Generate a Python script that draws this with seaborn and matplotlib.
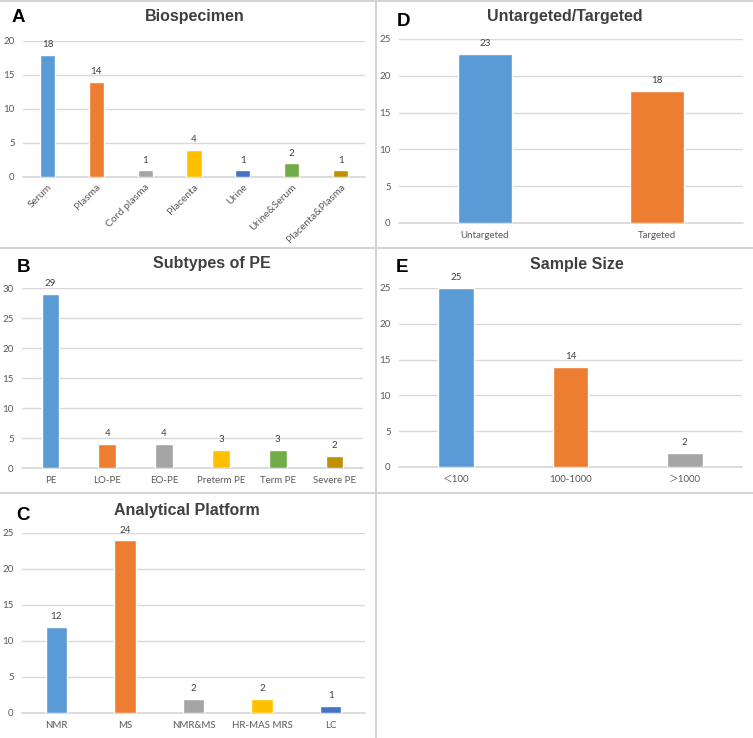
import matplotlib
matplotlib.use("Agg")
import matplotlib.pyplot as plt
import seaborn as sns
import pandas as pd
from matplotlib.lines import Line2D

# Panel data
bio_cats = ["Serum", "Plasma", "Cord plasma", "Placenta", "Urine", "Urine&Serum", "Placenta&Plasma"]
bio_vals = [18, 14, 1, 4, 1, 2, 1]

sub_cats = ["PE", "LO-PE", "EO-PE", "Preterm PE", "Term PE", "Severe PE"]
sub_vals = [29, 4, 4, 3, 3, 2]

plat_cats = ["NMR", "MS", "NMR&MS", "HR-MAS MRS", "LC"]
plat_vals = [12, 24, 2, 2, 1]

tgt_cats = ["Untargeted", "Targeted"]
tgt_vals = [23, 18]

size_cats = ["＜100", "100-1000", "＞1000"]
size_vals = [25, 14, 2]

# Excel office palette
BLUE, ORANGE, GRAY, GOLD = "#5B9BD5", "#ED7D31", "#A5A5A5", "#FFC000"
DBLUE, GREEN, DGOLD = "#4472C4", "#70AD47", "#BF9000"

sns.set_theme(style="whitegrid")
plt.rcParams["font.family"] = ["Lato", "Noto Sans CJK SC", "DejaVu Sans"]

W, H = 753, 738
fig = plt.figure(figsize=(W / 100, H / 100), dpi=100)


def px_axes(x0, x1, y_top, y_bot):
    # axes rectangle given in pixel coordinates (y from top)
    return fig.add_axes([x0 / W, 1 - y_bot / H, (x1 - x0) / W, (y_bot - y_top) / H])


def panel(ax, cats, vals, colors, ymax, step, rot=False):
    df = pd.DataFrame({"cat": cats, "val": vals})
    sns.barplot(data=df, x="cat", y="val", hue="cat", palette=colors,
                legend=False, width=0.31, ax=ax, saturation=1)
    for c in ax.containers:
        ax.bar_label(c, padding=4, fontsize=7, color="#404040")
    ax.set_ylim(0, ymax)
    ax.set_yticks(range(0, ymax + 1, step))
    ax.set_xlim(-0.5, len(cats) - 0.5)
    ax.set_xlabel("")
    ax.set_ylabel("")
    ax.grid(axis="y", color="#d9d9d9", lw=1)
    ax.grid(axis="x", visible=False)
    ax.axhline(0, color="#d9d9d9", lw=1.3, zorder=0.5, clip_on=False)
    for s in ax.spines.values():
        s.set_visible(False)
    ax.tick_params(axis="y", labelsize=7, labelcolor="#595959", length=0, pad=6)
    ax.tick_params(axis="x", labelsize=7, labelcolor="#595959", length=0, pad=6)
    if rot:
        ax.tick_params(axis="x", labelsize=7.5, pad=4)
        for lab in ax.get_xticklabels():
            lab.set_rotation(45)
            lab.set_ha("right")
            lab.set_va("top")
            lab.set_rotation_mode("anchor")
    ax.set_axisbelow(True)


axA = px_axes(23, 365, 41, 177)
panel(axA, bio_cats, bio_vals, [BLUE, ORANGE, GRAY, GOLD, DBLUE, GREEN, DGOLD], 20, 5, rot=True)

axB = px_axes(22, 363, 288, 468)
panel(axB, sub_cats, sub_vals, [BLUE, ORANGE, GRAY, GOLD, GREEN, DGOLD], 30, 5)

axC = px_axes(22, 365, 533, 713)
panel(axC, plat_cats, plat_vals, [BLUE, ORANGE, GRAY, GOLD, DBLUE], 25, 5)

axD = px_axes(399, 743, 39, 223)
panel(axD, tgt_cats, tgt_vals, [BLUE, ORANGE], 25, 5)

axE = px_axes(399, 742, 288, 467)
panel(axE, size_cats, size_vals, [BLUE, ORANGE, GRAY], 25, 5)

# titles and panel letters
titles = [("Biospecimen", 195, 17), ("Subtypes of PE", 212, 264), ("Analytical Platform", 187, 510),
          ("Untargeted/Targeted", 565, 16), ("Sample Size", 577, 265)]
for t, x, y in titles:
    fig.text(x / W, 1 - y / H, t, ha="center", va="center", fontsize=11.5,
             fontweight="bold", color="#404040", family=["Liberation Sans", "DejaVu Sans"])

letters = [("A", 18, 17), ("B", 23, 267), ("C", 23, 515), ("D", 403, 22), ("E", 402, 268)]
for t, x, y in letters:
    fig.text(x / W, 1 - y / H, t, ha="center", va="center", fontsize=13.5,
             fontweight="bold", color="black", family=["Liberation Sans", "DejaVu Sans"])

# panel separators
sep = "#d4d4d4"
fig.add_artist(Line2D([376 / W, 376 / W], [0, 1], color=sep, lw=1.5))
fig.add_artist(Line2D([0, 1], [1 - 248 / H] * 2, color=sep, lw=1.5))
fig.add_artist(Line2D([0, 1], [1 - 493 / H] * 2, color=sep, lw=1.5))
fig.add_artist(Line2D([0, 1], [1 - 0.5 / H] * 2, color=sep, lw=1.5))

fig.savefig("out.png", dpi=100)
